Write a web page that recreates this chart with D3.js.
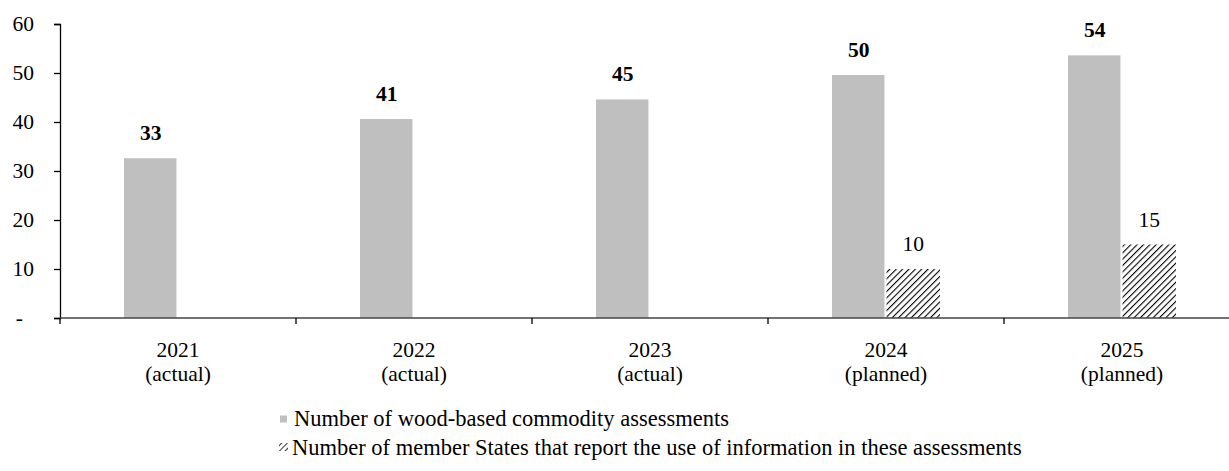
<!DOCTYPE html>
<html>
<head>
<meta charset="utf-8">
<script src="https://cdn.jsdelivr.net/npm/d3@7/dist/d3.min.js"></script>
<style>
  body { margin: 0; background: #fff; }
  svg { display: block; font-family: "Liberation Serif", "Times New Roman", serif; }
  text { font-family: "Liberation Serif", "Times New Roman", serif; }
</style>
</head>
<body>
<svg id="chart" width="1229" height="471"></svg>
<script>
const years = ["2021", "2022", "2023", "2024", "2025"];
const yearNotes = ["(actual)", "(actual)", "(actual)", "(planned)", "(planned)"];
const assessments = [32.6, 40.6, 44.6, 49.6, 53.6];
const memberStates = [null, null, null, 10, 15];
const yTicks = [0, 10, 20, 30, 40, 50, 60];
const seriesNames = [
  "Number of wood-based commodity assessments",
  "Number of member States that report the use of information in these assessments"
];

const FS = 21.5;
const svg = d3.select("#chart");
const defs = svg.append("defs");
const pat = defs.append("pattern")
  .attr("id", "hatch")
  .attr("patternUnits", "userSpaceOnUse")
  .attr("width", 4.5).attr("height", 4.5)
  .attr("patternTransform", "rotate(45)");
pat.append("rect").attr("width", 4.5).attr("height", 4.5).attr("fill", "#fff");
pat.append("line").attr("x1", 0).attr("y1", 0).attr("x2", 0).attr("y2", 4.5)
  .attr("stroke", "#000").attr("stroke-width", 2.2);

const pat2 = defs.append("pattern")
  .attr("id", "hatchSmall")
  .attr("patternUnits", "userSpaceOnUse")
  .attr("width", 4).attr("height", 4)
  .attr("patternTransform", "rotate(45)");
pat2.append("rect").attr("width", 4).attr("height", 4).attr("fill", "#fff");
pat2.append("line").attr("x1", 0).attr("y1", 0).attr("x2", 0).attr("y2", 4)
  .attr("stroke", "#000").attr("stroke-width", 1.6);

const left = 60, catW = 236;
const x = d3.scaleBand().domain(years).range([left, left + catW * years.length]).padding(0);
const y = d3.scaleLinear().domain([0, 60]).range([318, 24]);
const x1 = d3.scaleBand().domain(["a", "b"]).range([-54, 54]).paddingInner(0.02);

// y axis
const yAxis = svg.append("g").attr("transform", `translate(${left},0)`)
  .call(d3.axisLeft(y).tickValues(yTicks).tickSize(6).tickPadding(20)
    .tickFormat(d => d === 0 ? "-" : d));
yAxis.attr("font-family", null).attr("font-size", null);
yAxis.select(".domain").attr("stroke", "#000").attr("stroke-width", 1.3);
yAxis.selectAll(".tick line").attr("stroke", "#000").attr("stroke-width", 1.3);
yAxis.selectAll(".tick text").attr("font-size", FS).attr("fill", "#000");
yAxis.selectAll(".tick").filter(d => d === 0).select("text").attr("dx", -11);

// bars series 1
const g = svg.append("g");
g.selectAll("rect.a").data(years).join("rect")
  .attr("class", "a")
  .attr("x", d => x(d) + x.bandwidth() / 2 + x1("a"))
  .attr("width", x1.bandwidth() - 1)
  .attr("y", (d, i) => y(assessments[i]))
  .attr("height", (d, i) => y(0) - y(assessments[i]))
  .attr("fill", "#bfbfbf");

const ms = years.map((d, i) => ({ year: d, v: memberStates[i] })).filter(d => d.v != null);
g.selectAll("rect.b").data(ms).join("rect")
  .attr("class", "b")
  .attr("x", d => x(d.year) + x.bandwidth() / 2 + x1("b"))
  .attr("width", x1.bandwidth())
  .attr("y", d => y(d.v))
  .attr("height", d => y(0) - y(d.v))
  .attr("fill", "url(#hatch)");

// labels
const fmt = d3.format(".0f");
g.selectAll("text.la").data(years).join("text")
  .attr("class", "la")
  .attr("x", d => x(d) + x.bandwidth() / 2 + x1("a") + x1.bandwidth() / 2)
  .attr("y", (d, i) => y(assessments[i]) - 18)
  .attr("text-anchor", "middle")
  .attr("font-size", FS).attr("font-weight", "bold")
  .text((d, i) => fmt(assessments[i]));

g.selectAll("text.lb").data(ms).join("text")
  .attr("class", "lb")
  .attr("x", d => x(d.year) + x.bandwidth() / 2 + x1("b") + x1.bandwidth() / 2)
  .attr("y", d => y(d.v) - 18)
  .attr("text-anchor", "middle")
  .attr("font-size", FS)
  .text(d => fmt(d.v));

// x axis
const xAxis = svg.append("g").attr("transform", `translate(0,${y(0)})`);
xAxis.append("line").attr("x1", left).attr("x2", 1229).attr("y1", 0).attr("y2", 0)
  .attr("stroke", "#444").attr("stroke-width", 1.6);
const bounds = years.map(d => x(d)).slice(1);
xAxis.selectAll("line.t").data(bounds).join("line").attr("class", "t")
  .attr("x1", d => d).attr("x2", d => d).attr("y1", 0).attr("y2", 6)
  .attr("stroke", "#000").attr("stroke-width", 1.3);
xAxis.append("line").attr("x1", left).attr("x2", left).attr("y1", 0).attr("y2", 6)
  .attr("stroke", "#000").attr("stroke-width", 1.3);
const xl = xAxis.selectAll("text.xl").data(years).join("text").attr("class", "xl")
  .attr("x", d => x(d) + x.bandwidth() / 2)
  .attr("text-anchor", "middle").attr("font-size", FS);
xl.append("tspan").attr("x", d => x(d) + x.bandwidth() / 2).attr("y", 39).text(d => d);
xl.append("tspan").attr("x", d => x(d) + x.bandwidth() / 2).attr("y", 63).text((d, i) => yearNotes[i]);

// legend
const leg = svg.append("g");
leg.append("rect").attr("x", 280).attr("y", 415.5).attr("width", 7).attr("height", 7).attr("fill", "#bfbfbf");
leg.append("text").attr("x", 294).attr("y", 426).attr("font-size", 22.5).text(seriesNames[0]);
leg.append("rect").attr("x", 279).attr("y", 443).attr("width", 9).attr("height", 8).attr("fill", "url(#hatchSmall)");
leg.append("text").attr("x", 292).attr("y", 455).attr("font-size", 22.5).text(seriesNames[1]);
</script>
</body>
</html>
